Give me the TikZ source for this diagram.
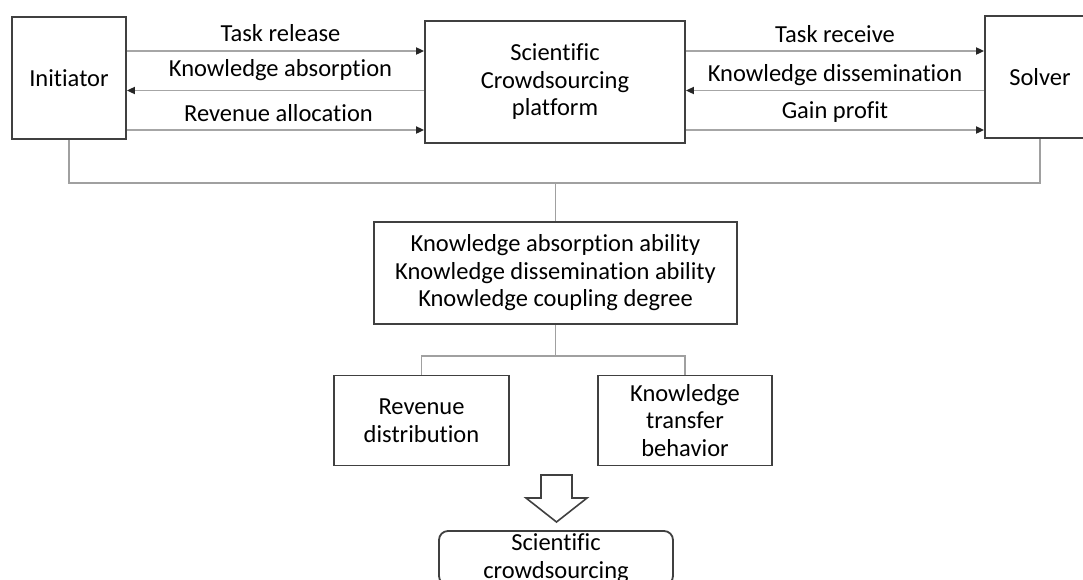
\documentclass[tikz,border=0pt]{standalone}
\usepackage{fontspec}
\setmainfont{Carlito}[Ligatures=NoCommon]
\usetikzlibrary{arrows.meta}

\definecolor{boxline}{HTML}{404040}
\definecolor{flowline}{HTML}{A6A6A6}
\definecolor{treeline}{HTML}{A0A0A0}

\tikzset{
  box/.style={draw=boxline, line width=1.8pt, align=center, inner sep=2pt,
    font=\fontsize{24.5}{27.5}\selectfont},
  flow/.style={draw=flowline, line width=1.8pt,
    -{Triangle[length=8pt, width=7pt, color=black!85]}},
  lbl/.style={inner sep=0pt, text depth=0pt, font=\fontsize{24.5}{27.5}\selectfont},
  tree/.style={draw=treeline, line width=1.8pt}
}

\begin{document}
\begin{tikzpicture}[x=1pt, y=-1pt]
    \useasboundingbox (0,0) rectangle (1083,579);

    % Actors and platform
    \node[box, minimum width=114pt, minimum height=122pt] (init) at (69,78) {Initiator};
    \node[box, minimum width=260pt, minimum height=122pt] (plat) at (555,82) {Scientific\\Crowdsourcing\\platform};
    \node[box, minimum width=110pt, minimum height=122pt] (solv) at (1040,77) {Solver};

    % Rows of the exchange arrows
    \coordinate (r1) at (0,51);
    \coordinate (r2) at (0,90.5);
    \coordinate (r3) at (0,130);

    % Initiator <-> platform
    \draw[flow] (init.east |- r1) -- node[lbl, above=9pt, xshift=5pt] (trel) {Task release} (plat.west |- r1);
    \draw[flow] (plat.west |- r2) -- node[lbl, above=13pt, xshift=5pt] (kabs) {Knowledge absorption} (init.east |- r2);
    \draw[flow] (init.east |- r3) -- node[lbl, above=8pt, xshift=3pt] (ralloc) {Revenue allocation} (plat.west |- r3);

    % Platform <-> solver
    \draw[flow] (plat.east |- r1) -- node[lbl, above=8pt] (trec) {Task receive} (solv.west |- r1);
    \draw[flow] (solv.west |- r2) -- node[lbl, above=8pt] (kdis) {Knowledge dissemination} (plat.east |- r2);
    \draw[flow] (plat.east |- r3) -- node[lbl, above=11pt] (gain) {Gain profit} (solv.west |- r3);

    % Knowledge factors
    \node[box, minimum width=363pt, minimum height=102pt] (abil) at (555.5,273)
        {Knowledge absorption ability\\Knowledge dissemination ability\\Knowledge coupling degree};

    \coordinate (bus) at (555,183);
    \draw[tree] (init.south) |- (solv.south |- bus) -- (solv.south);
    \draw[tree] (abil.north |- bus) -- (abil.north);

    % Outcomes
    \node[box, minimum width=175pt, minimum height=90pt] (rev) at (421.5,420.5) {Revenue\\distribution};
    \node[box, minimum width=174pt, minimum height=90pt] (ktb) at (685,420.5) {Knowledge\\transfer\\behavior};

    \coordinate (split) at (555.5,356);
    \draw[tree] (abil.south) -- (split);
    \draw[tree] (rev.north) |- (split) -| (ktb.north);

    % Hollow arrow down
    \draw[boxline, line width=1.6pt, line join=miter, fill=white]
        (541,475) -- (572,475) -- (572,498) -- (587,498) -- (556.5,522)
        -- (526,498) -- (541,498) -- cycle;

    % Result (cut by the page edge)
    \node[box, rounded corners=9pt, minimum width=234pt, minimum height=54pt] (res) at (556,558)
        {Scientific\\crowdsourcing};
\end{tikzpicture}
\end{document}
